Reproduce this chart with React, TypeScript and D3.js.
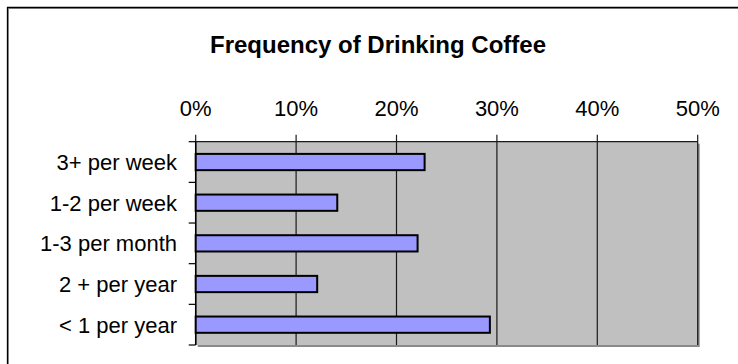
import React from "react";
import * as d3 from "d3";

const categories = ["3+ per week", "1-2 per week", "1-3 per month", "2 + per year", "< 1 per year"];
const shares = [22.8, 14.1, 22.1, 12.1, 29.3];
const tickValues = [0, 10, 20, 30, 40, 50];
const title = "Frequency of Drinking Coffee";

const W = 738;
const H = 364;
const plot = { left: 195.7, right: 697.7, top: 141.7, bottom: 345 };
const font = "Liberation Sans, Arial, Helvetica, sans-serif";

export default function App() {
  const x = d3.scaleLinear().domain([0, 50]).range([plot.left, plot.right]);
  const y = d3.scaleBand<string>().domain(categories).range([plot.top, plot.bottom]);
  const barH = y.bandwidth() * 0.4;
  const bandEdges = [...categories.map((c) => y(c) as number), plot.bottom];

  return (
    <svg
      width={W}
      height={H}
      style={{ position: "absolute", left: 0, top: 0, display: "block", background: "#fff", overflow: "hidden" }}
    >
      {/* outer chart frame, only its top and left edges fall inside the view */}
      <path d={`M8.5,${H}V8.5H${W}`} fill="none" stroke="#9a9a9a" strokeWidth={1} />
      <path d={`M7.5,${H}V7.5H${W}`} fill="none" stroke="#000" strokeWidth={1.3} />

      <text
        x={378}
        y={52.5}
        textAnchor="middle"
        fontFamily={font}
        fontWeight="bold"
        fontSize={24}
        fill="#000"
      >
        {title}
      </text>

      {/* plot area with drop shadow */}
      <rect
        x={plot.left + 2}
        y={plot.top + 2}
        width={plot.right - plot.left}
        height={plot.bottom - plot.top}
        fill="#8a8a8a"
      />
      <rect
        x={plot.left}
        y={plot.top}
        width={plot.right - plot.left}
        height={plot.bottom - plot.top}
        fill="#C0C0C0"
      />

      {/* vertical gridlines with ticks above the plot */}
      {tickValues.map((t) => (
        <line
          key={`g${t}`}
          x1={x(t)}
          x2={x(t)}
          y1={plot.top - 7}
          y2={plot.bottom}
          stroke="#1a1a1a"
          strokeWidth={1.2}
        />
      ))}
      <line x1={plot.left} x2={plot.right} y1={plot.top} y2={plot.top} stroke="#1a1a1a" strokeWidth={1.3} />

      {tickValues.map((t) => (
        <text
          key={`t${t}`}
          x={x(t)}
          y={116}
          textAnchor="middle"
          fontFamily={font}
          fontSize={22}
          fill="#000"
        >
          {`${t}%`}
        </text>
      ))}

      {/* category axis */}
      <line x1={plot.left} x2={plot.left} y1={plot.top} y2={plot.bottom} stroke="#000" strokeWidth={1.5} />
      {bandEdges.map((e, i) => (
        <line key={`c${i}`} x1={plot.left - 7} x2={plot.left} y1={e} y2={e} stroke="#000" strokeWidth={1.2} />
      ))}
      {categories.map((c) => (
        <text
          key={`l${c}`}
          x={177}
          y={(y(c) as number) + y.bandwidth() / 2 + 8}
          textAnchor="end"
          fontFamily={font}
          fontSize={22}
          fill="#000"
        >
          {c}
        </text>
      ))}

      {/* bars */}
      {categories.map((c, i) => (
        <rect
          key={`b${c}`}
          x={x(0)}
          y={(y(c) as number) + (y.bandwidth() - barH) / 2}
          width={x(shares[i]) - x(0)}
          height={barH}
          fill="#9999FF"
          stroke="#000"
          strokeWidth={2}
        />
      ))}
    </svg>
  );
}
